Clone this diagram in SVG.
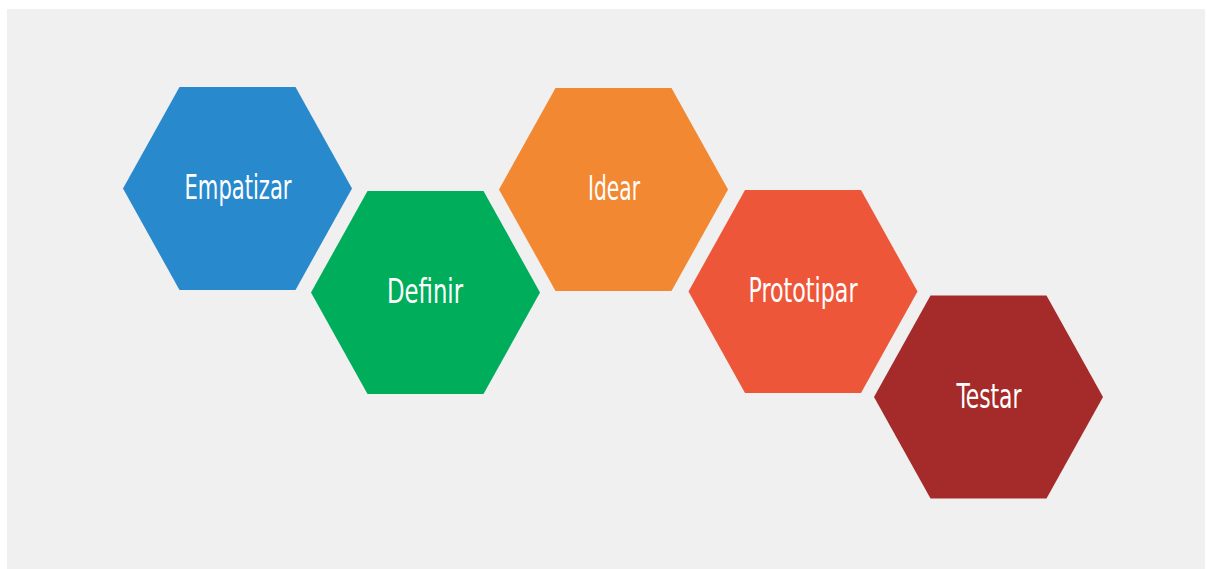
<svg xmlns="http://www.w3.org/2000/svg" width="1207" height="569" viewBox="0 0 1207 569">
  <defs>
    <style>
      .hex { stroke: none; }
      .lbl { font-family: "DejaVu Sans", "Liberation Sans", sans-serif; font-stretch: condensed; font-size: 33px; fill: #ffffff; text-anchor: middle; }
    </style>
    <polygon id="hexShape" points="-58,-101.5 58,-101.5 114.5,0 58,101.5 -58,101.5 -114.5,0"/>
  </defs>
  <rect x="0" y="0" width="1207" height="569" fill="#ffffff"/>
  <rect x="7" y="9" width="1198" height="560" fill="#f0f0f0"/>
  <g id="connectors"></g>
  <g id="node-empatizar">
    <use href="#hexShape" x="237.5" y="188.5" fill="#2889cc"/>
    <text class="lbl" x="238" y="199" textLength="107" lengthAdjust="spacingAndGlyphs">Empatizar</text>
  </g>
  <g id="node-definir">
    <use href="#hexShape" x="425.5" y="292.5" fill="#00ad5b"/>
    <text class="lbl" x="425" y="303" textLength="76" lengthAdjust="spacingAndGlyphs">Definir</text>
  </g>
  <g id="node-idear">
    <use href="#hexShape" x="613.5" y="189.5" fill="#f28831"/>
    <text class="lbl" x="614" y="200" textLength="52" lengthAdjust="spacingAndGlyphs">Idear</text>
  </g>
  <g id="node-prototipar">
    <use href="#hexShape" x="803" y="291.5" fill="#ee563a"/>
    <text class="lbl" x="803" y="302" textLength="109" lengthAdjust="spacingAndGlyphs">Prototipar</text>
  </g>
  <g id="node-testar">
    <use href="#hexShape" x="988.5" y="397" fill="#a52b2a"/>
    <text class="lbl" x="989" y="408" textLength="65" lengthAdjust="spacingAndGlyphs">Testar</text>
  </g>
</svg>
